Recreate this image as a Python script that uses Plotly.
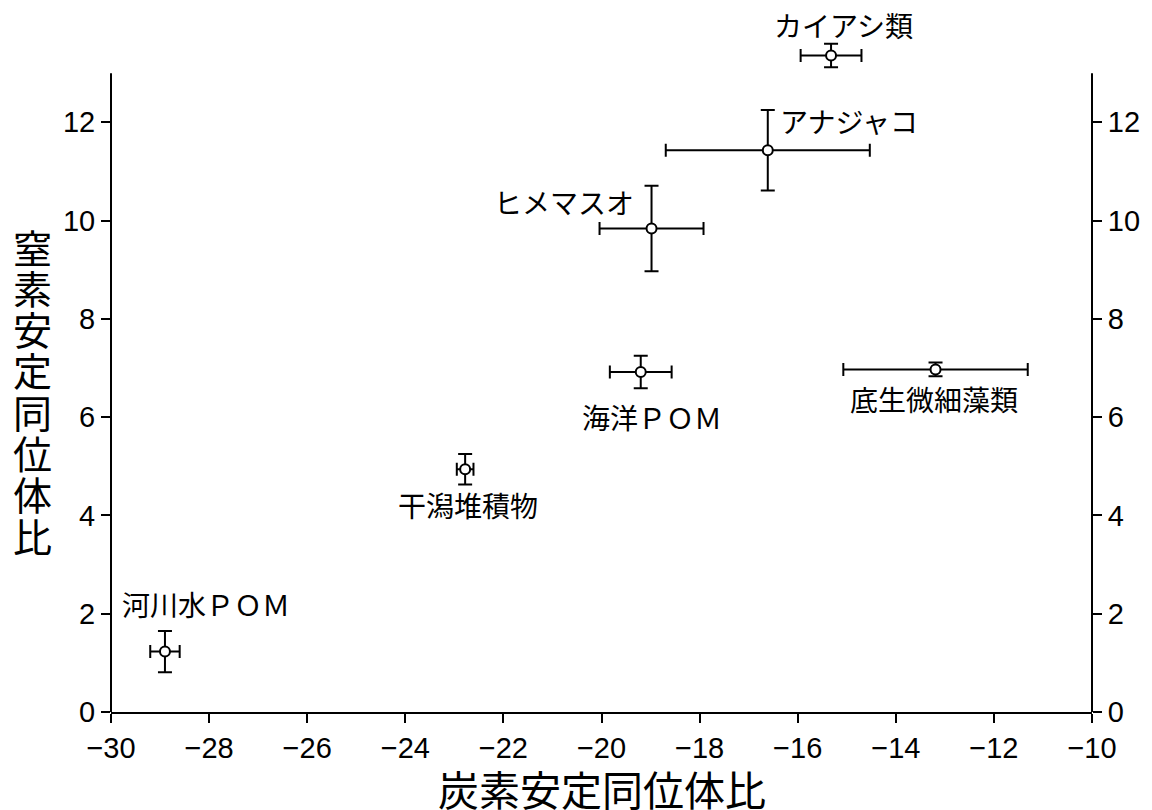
import plotly.graph_objects as go

# ---- data ----
names = ["カイアシ類", "アナジャコ", "ヒメマスオ", "海洋ＰＯＭ", "底生微細藻類", "干潟堆積物", "河川水ＰＯＭ"]
carbon = [-15.32, -16.61, -18.98, -19.20, -13.19, -22.78, -28.90]
nitrogen = [13.36, 11.43, 9.84, 6.92, 6.97, 4.94, 1.23]
carbon_err = [0.62, 2.08, 1.06, 0.63, 1.88, 0.17, 0.30]
nitrogen_err = [0.24, 0.82, 0.87, 0.33, 0.14, 0.31, 0.42]
x_ticks = list(range(-30, -9, 2))
y_ticks = list(range(0, 13, 2))
x_title = "炭素安定同位体比"
y_title = "窒素安定同位体比"

# label offsets (pixels) relative to each point
label_dx = [12, 81, -88, 11, -2, 3, 41]
label_dy = [30, 29, 26, -45, -30, -36, 48]

CJK = "Noto Sans CJK JP"
LAT = "Liberation Sans, Arial"

W, HT = 1152, 810
L, R, T, B = 110.7, 57.7, 23.5, 97.7
PW, PH = W - L - R, HT - T - B
Y_TOP = 13       # visible extent of the vertical axis lines
Y_RANGE = [0, 14]

def px_to_paper(px, py):
    return (px - L) / PW, (HT - B - py) / PH

fig = go.Figure()
fig.add_trace(go.Scatter(
    x=carbon, y=nitrogen, mode="markers",
    marker=dict(size=10, color="white", line=dict(color="black", width=2)),
    error_x=dict(type="data", array=carbon_err, color="black", thickness=2, width=6.5),
    error_y=dict(type="data", array=nitrogen_err, color="black", thickness=2, width=7),
    cliponaxis=False, showlegend=False, hoverinfo="skip",
))
# helper trace so the right-hand axis is drawn
fig.add_trace(go.Scatter(x=carbon, y=nitrogen, yaxis="y2", mode="markers",
                         marker=dict(opacity=0), showlegend=False, hoverinfo="skip"))

for n, cx, ny, dx, dy in zip(names, carbon, nitrogen, label_dx, label_dy):
    fig.add_annotation(x=cx, y=ny, text=n, showarrow=False, xshift=dx, yshift=dy,
                       xanchor="center", yanchor="middle",
                       font=dict(family=CJK, size=28, color="black"))

# y title: stacked characters
for i, ch in enumerate(y_title):
    ax, ay = px_to_paper(31.5, 245.5 + i * 41.3)
    fig.add_annotation(xref="paper", yref="paper", x=ax, y=ay,
                       text=ch, showarrow=False, xanchor="center", yanchor="middle",
                       font=dict(family=CJK, size=39, color="black"))
# x title
ax, ay = px_to_paper(603, 788)
fig.add_annotation(xref="paper", yref="paper", x=ax, y=ay,
                   text=x_title, showarrow=False, xanchor="center", yanchor="middle",
                   font=dict(family=CJK, size=41, color="black"))

# vertical axis lines (left and right) stopping at Y_TOP
for xp in (0, 1):
    fig.add_shape(type="line", xref="paper", yref="y", x0=xp, x1=xp, y0=0, y1=Y_TOP,
                  line=dict(color="black", width=2))

axis_common = dict(showgrid=False, zeroline=False, linecolor="black",
                   linewidth=2, ticks="outside", ticklen=9, tickwidth=2, tickcolor="black",
                   tickfont=dict(family=LAT, size=29, color="black"))

fig.update_layout(
    width=W, height=HT,
    margin=dict(l=L, r=R, t=T, b=B, pad=0),
    plot_bgcolor="white", paper_bgcolor="white",
    xaxis=dict(range=[-30, -10], tickvals=x_ticks, showline=True, **axis_common),
    yaxis=dict(range=Y_RANGE, tickvals=y_ticks, showline=False, **axis_common),
    yaxis2=dict(range=Y_RANGE, tickvals=y_ticks, overlaying="y", side="right",
                anchor="x", showline=False, **axis_common),
)

fig.write_html("out.html", config={"displayModeBar": False},
               post_script="document.body.style.margin='0';")
